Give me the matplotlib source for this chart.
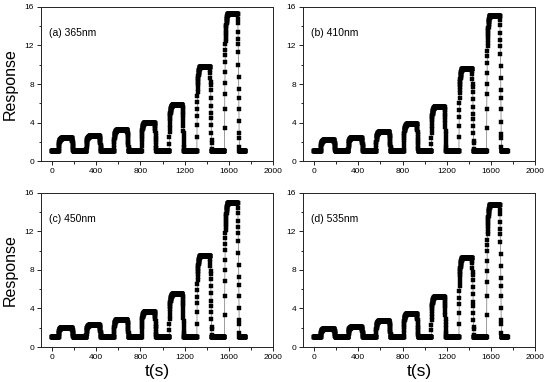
import numpy as np
import matplotlib
matplotlib.use("Agg")
import matplotlib.pyplot as plt
from matplotlib.ticker import MultipleLocator

plt.rcParams['font.family'] = ['Liberation Sans', 'DejaVu Sans']

# ---- data ----
panel_labels = ["(a) 365nm", "(b) 410nm", "(c) 450nm", "(d) 535nm"]
light_on = [60, 310, 560, 810, 1060, 1310, 1560]      # s
light_off = [180, 430, 680, 930, 1180, 1430, 1680]    # s
baseline = 1.0
t_end = 1750
sample_dt = 1.0
peaks_a = [2.35, 2.55, 3.2, 4.0, 5.8, 9.8, 15.3]
peaks_b = [2.15, 2.4, 3.0, 3.8, 5.6, 9.6, 15.1]
peaks_c = [2.0, 2.25, 2.85, 3.65, 5.45, 9.45, 14.9]
peaks_d = [1.85, 2.05, 2.7, 3.45, 5.2, 9.25, 14.7]
# normalised rise / decay profiles (per sample)
rise_frac = [0.0, 0.17, 0.31, 0.42, 0.50, 0.58, 0.65, 0.70, 0.74, 0.78,
             0.80, 0.82, 0.84, 0.855, 0.87, 0.885, 0.90, 0.91, 0.92, 0.93,
             0.94, 0.95, 0.955, 0.96, 0.965, 0.97, 0.975, 0.98, 0.984,
             0.988, 0.991, 0.994, 0.996, 0.998, 0.999, 1.0]
decay_frac = [1.0, 0.965, 0.93, 0.87, 0.82, 0.78, 0.72, 0.63, 0.54, 0.45,
              0.39, 0.31, 0.22, 0.13, 0.10, 0.03, 0.0]

x_ticks = [0, 400, 800, 1200, 1600, 2000]
y_ticks = [0, 4, 8, 12, 16]


def build_series(peaks):
    t = np.arange(0, t_end + 0.01, sample_dt)
    v = np.full_like(t, baseline)
    for on, off, pk in zip(light_on, light_off, peaks):
        amp = pk - baseline
        on_idx = np.where((t >= on) & (t < off))[0]
        for k, i in enumerate(on_idx):
            v[i] = baseline + amp * rise_frac[min(k, len(rise_frac) - 1)]
        off_idx = np.where(t >= off)[0][:len(decay_frac)]
        for k, i in enumerate(off_idx):
            v[i] = baseline + amp * decay_frac[k]
    return t, v


fig = plt.figure(figsize=(5.5, 3.82), dpi=100)
positions = [
    [0.0745, 0.5785, 0.422, 0.4032],
    [0.551, 0.5785, 0.422, 0.4032],
    [0.0745, 0.0916, 0.422, 0.404],
    [0.551, 0.0916, 0.422, 0.404],
]
all_peaks = [peaks_a, peaks_b, peaks_c, peaks_d]

for idx, (pos, peaks, lab) in enumerate(zip(positions, all_peaks, panel_labels)):
    ax = fig.add_axes(pos)
    t, v = build_series(peaks)
    ax.plot(t, v, color='#8a8a8a', lw=0.6, zorder=1)
    ax.plot(t, v, linestyle='none', marker='s', markersize=2.7,
            markerfacecolor='black', markeredgecolor='black',
            markeredgewidth=0.3, zorder=2)
    ax.set_xlim(-100, 2000)
    ax.set_ylim(0, 16)
    ax.set_xticks(x_ticks)
    ax.set_yticks(y_ticks)
    ax.xaxis.set_minor_locator(MultipleLocator(200))
    ax.yaxis.set_minor_locator(MultipleLocator(2))
    ax.tick_params(which='both', direction='out', top=False, right=False,
                   labelsize=6, width=0.6, pad=2)
    ax.tick_params(which='major', length=3)
    ax.tick_params(which='minor', length=1.8)
    for s in ax.spines.values():
        s.set_linewidth(0.7)
        s.set_color('#222222')
    ax.text(-30, 13.3, lab, fontsize=7.5, ha='left', va='center')
    if idx % 2 == 0:
        ax.set_ylabel("Response", fontsize=11.5, labelpad=5)
    if idx >= 2:
        ax.set_xlabel("t(s)", fontsize=12.5, labelpad=2)

fig.savefig("out.png", dpi=100)
